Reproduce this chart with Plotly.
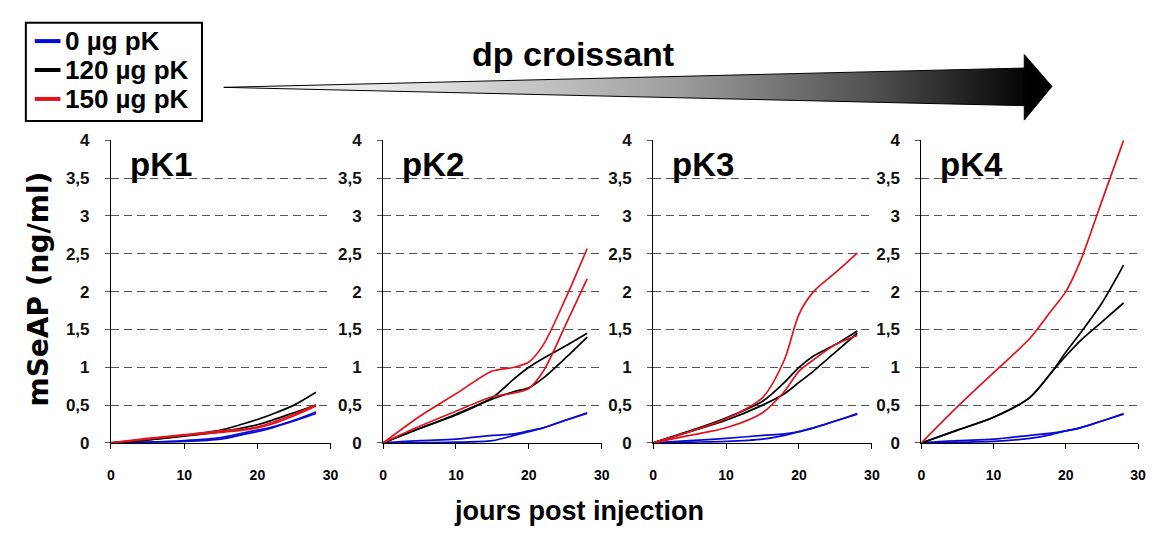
import plotly.graph_objects as go

# jours de prélèvement (axe x commun)
jours = [0, 5, 10, 15, 18, 20, 22, 25, 28]

# pK1
pk1_0_a = [0, 0.01, 0.03, 0.07, 0.13, 0.17, 0.21, 0.30, 0.41]
pk1_0_b = [0, 0.01, 0.02, 0.05, 0.11, 0.15, 0.20, 0.29, 0.39]
pk1_120_a = [0, 0.04, 0.10, 0.17, 0.25, 0.31, 0.38, 0.50, 0.67]
pk1_120_b = [0, 0.04, 0.09, 0.15, 0.20, 0.24, 0.30, 0.40, 0.50]
pk1_150_a = [0, 0.06, 0.11, 0.16, 0.18, 0.21, 0.27, 0.38, 0.50]
pk1_150_b = [0, 0.05, 0.10, 0.14, 0.17, 0.20, 0.25, 0.36, 0.49]

# pK2
pk2_0_a = [0, 0.03, 0.05, 0.10, 0.12, 0.16, 0.20, 0.30, 0.40]
pk2_0_b = [0, 0.005, 0.01, 0.03, 0.10, 0.15, 0.20, 0.30, 0.39]
pk2_120_a = [0, 0.19, 0.38, 0.60, 0.85, 1.00, 1.12, 1.28, 1.45]
pk2_120_b = [0, 0.19, 0.37, 0.58, 0.68, 0.73, 0.86, 1.12, 1.40]
pk2_150_a = [0, 0.35, 0.65, 0.95, 1.00, 1.07, 1.30, 1.90, 2.57]
pk2_150_b = [0, 0.22, 0.42, 0.61, 0.66, 0.72, 0.95, 1.55, 2.17]

# pK3
pk3_0_a = [0, 0.03, 0.06, 0.10, 0.12, 0.15, 0.20, 0.29, 0.39]
pk3_0_b = [0, 0.01, 0.02, 0.05, 0.10, 0.15, 0.20, 0.29, 0.38]
pk3_120_a = [0, 0.16, 0.33, 0.55, 0.80, 1.00, 1.15, 1.30, 1.48]
pk3_120_b = [0, 0.15, 0.30, 0.50, 0.65, 0.80, 0.95, 1.20, 1.45]
pk3_150_a = [0, 0.15, 0.32, 0.60, 1.10, 1.70, 2.00, 2.25, 2.51]
pk3_150_b = [0, 0.10, 0.20, 0.40, 0.68, 0.95, 1.10, 1.30, 1.42]

# pK4
pk4_0_a = [0, 0.03, 0.05, 0.10, 0.13, 0.16, 0.20, 0.29, 0.38]
pk4_0_b = [0, 0.01, 0.02, 0.06, 0.11, 0.16, 0.20, 0.29, 0.39]
pk4_120_a = [0, 0.17, 0.34, 0.60, 0.93, 1.20, 1.45, 1.85, 2.35]
pk4_120_b = [0, 0.17, 0.34, 0.60, 0.93, 1.15, 1.35, 1.60, 1.85]
pk4_150_a = [0, 0.48, 0.93, 1.38, 1.75, 2.00, 2.40, 3.20, 4.00]

panneaux = ["pK1", "pK2", "pK3", "pK4"]
doses = ["0 µg pK", "120 µg pK", "150 µg pK"]

series = {
    "pK1": [pk1_0_a, pk1_0_b, pk1_120_a, pk1_120_b, pk1_150_a, pk1_150_b],
    "pK2": [pk2_0_a, pk2_0_b, pk2_120_a, pk2_120_b, pk2_150_a, pk2_150_b],
    "pK3": [pk3_0_a, pk3_0_b, pk3_120_a, pk3_120_b, pk3_150_a, pk3_150_b],
    "pK4": [pk4_0_a, pk4_0_b, pk4_120_a, pk4_120_b, pk4_150_a],
}

couleurs = {"0 µg pK": "#0a0ad2", "120 µg pK": "#000000", "150 µg pK": "#e0141c"}
dose_serie = ["0 µg pK", "0 µg pK", "120 µg pK", "120 µg pK", "150 µg pK", "150 µg pK"]

# la page html garde une marge de 8 px autour de la figure
OFF = 8
W, H = 1158 - 2 * OFF, 539 - 2 * OFF
ARIAL = "Liberation Sans, Arial, sans-serif"

# domaines des sous-graphes en pixels (coordonnées écran)
x_domaines = [(108, 330), (383, 604), (656, 877), (927, 1146)]
y_haut, y_bas = 136, 450


def px_x(v):
    return (v - OFF) / W


def px_y(v):
    return 1 - (v - OFF) / H


fig = go.Figure()

for i, nom in enumerate(panneaux):
    suf = "" if i == 0 else str(i + 1)
    for j, vals in enumerate(series[nom]):
        fig.add_trace(
            go.Scatter(
                x=jours,
                y=vals,
                mode="lines",
                line=dict(color=couleurs[dose_serie[j]], width=1.7, shape="spline", smoothing=0.8),
                xaxis="x" + suf,
                yaxis="y" + suf,
                showlegend=False,
                hoverinfo="skip",
            )
        )

layout = dict(
    width=W,
    height=H,
    autosize=False,
    margin=dict(l=0, r=0, t=0, b=0),
    paper_bgcolor="white",
    plot_bgcolor="rgba(0,0,0,0)",
    separators=",.",
    showlegend=False,
)

annotations = []
shapes = []
for i, (x0, x1) in enumerate(x_domaines):
    suf = "" if i == 0 else str(i + 1)
    layout["xaxis" + suf] = dict(
        domain=[px_x(x0), px_x(x1)],
        anchor="y" + suf,
        range=[0, 30],
        tickvals=[0, 10, 20, 30],
        ticks="outside", ticklen=5, tickcolor="black",
        showline=True, linecolor="black", linewidth=1,
        showgrid=False, zeroline=False,
        ticklabelstandoff=14,
        tickfont=dict(family=ARIAL, size=14, color="black", weight="bold"),
    )
    layout["yaxis" + suf] = dict(
        domain=[px_y(y_bas), px_y(y_haut)],
        anchor="x" + suf,
        range=[0, 4],
        dtick=0.5,
        ticks="outside", ticklen=5, tickcolor="#555555",
        showline=True, linecolor="black", linewidth=1,
        showgrid=True, gridcolor="#555555", gridwidth=1, griddash="8px,5px",
        zeroline=False,
        ticklabelstandoff=12,
        tickfont=dict(family=ARIAL, size=17, color="#111111", weight="bold"),
    )
    annotations.append(dict(
        text=panneaux[i], xref="paper", yref="paper",
        x=px_x(x0 + 17), y=px_y(161), xanchor="left", yanchor="middle",
        showarrow=False,
        font=dict(family=ARIAL, size=33, color="black", weight="bold"),
    ))

# légende dessinée à la main
shapes.append(dict(type="rect", xref="paper", yref="paper",
                   x0=px_x(22), x1=px_x(200), y0=px_y(14), y1=px_y(116),
                   line=dict(color="black", width=2), fillcolor="white"))
for k, d in enumerate(doses):
    yc = 33 + 30 * k
    shapes.append(dict(type="line", xref="paper", yref="paper",
                       x0=px_x(31), x1=px_x(57), y0=px_y(yc), y1=px_y(yc),
                       line=dict(color=couleurs[d], width=4)))
    annotations.append(dict(
        text=d, xref="paper", yref="paper", x=px_x(60), y=px_y(yc),
        xanchor="left", yanchor="middle", showarrow=False,
        font=dict(family=ARIAL, size=26, color="black", weight="bold"),
    ))

# axe de surcouche pour la flèche "dp croissant" (en pixels écran)
layout["xaxis5"] = dict(domain=[0, 1], range=[OFF, W + OFF], visible=False, anchor="y5", fixedrange=True)
layout["yaxis5"] = dict(domain=[0, 1], range=[H + OFF, OFF], visible=False, anchor="x5", fixedrange=True)

fig.add_trace(go.Scatter(
    x=[222, 1031, 1031, 222], y=[81, 61, 100, 81],
    mode="lines", fill="toself",
    fillgradient=dict(type="horizontal", start=222, stop=1031,
                      colorscale=[[0, "#ffffff"], [0.25, "#e0e0e0"], [0.55, "#a0a0a0"],
                                  [0.8, "#505050"], [1, "#000000"]]),
    line=dict(color="black", width=1),
    xaxis="x5", yaxis="y5", showlegend=False, hoverinfo="skip",
))
fig.add_trace(go.Scatter(
    x=[1031, 1059, 1031, 1031], y=[47, 80, 115, 47],
    mode="lines", fill="toself", fillcolor="black",
    line=dict(color="black", width=1),
    xaxis="x5", yaxis="y5", showlegend=False, hoverinfo="skip",
))

annotations += [
    dict(text="dp croissant", xref="paper", yref="paper", x=px_x(575), y=px_y(46),
         xanchor="center", yanchor="middle", showarrow=False,
         font=dict(family=ARIAL, size=34, color="black", weight="bold")),
    dict(text="jours post injection", xref="paper", yref="paper", x=px_x(581), y=px_y(521),
         xanchor="center", yanchor="middle", showarrow=False,
         font=dict(family=ARIAL, size=27, color="black", weight="bold")),
    dict(text="mSeAP (ng/ml)", xref="paper", yref="paper", x=px_x(35), y=px_y(290),
         xanchor="center", yanchor="middle", showarrow=False, textangle=-90,
         font=dict(family="DejaVu Sans, sans-serif", size=28, color="black", weight="bold")),
]
layout["annotations"] = annotations
layout["shapes"] = shapes

fig.update_layout(**layout)
fig.write_html("out.html")
